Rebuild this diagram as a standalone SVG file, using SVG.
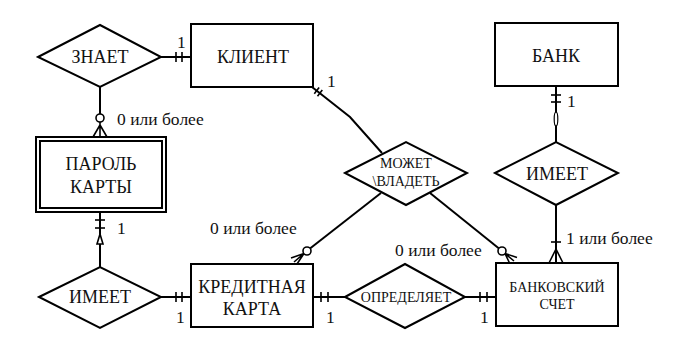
<svg xmlns="http://www.w3.org/2000/svg" width="691" height="344" viewBox="0 0 691 344">
<style>
.box{fill:#fff;stroke:#000;stroke-width:2}
.dia{fill:#fff;stroke:#000;stroke-width:2;stroke-linejoin:miter}
.ln{fill:none;stroke:#000;stroke-width:2}
.thin{fill:none;stroke:#000;stroke-width:1.6}
.circ{fill:#fff;stroke:#000;stroke-width:1.6}
text{fill:#111;font-family:"Liberation Serif",Tinos,"Times New Roman",serif !important}
.t18{font-size:18px;text-anchor:middle}
.t14{font-size:14px;text-anchor:middle}
.lbl{font-size:17.5px}
</style>
<rect width="691" height="344" fill="#fff"/>
<g id="connectors">
<line class="ln" x1="161" y1="57" x2="191" y2="57"/>
<line class="thin" x1="176" y1="52" x2="176" y2="62"/>
<line class="thin" x1="182" y1="52" x2="182" y2="62"/>
<line class="ln" x1="100" y1="87" x2="100" y2="114"/>
<circle class="circ" cx="100" cy="118" r="4"/>
<path class="thin" d="M100 122 V137 M100 125 L93 137 M100 125 L107 137"/>
<line class="ln" x1="100" y1="212" x2="100" y2="267"/>
<line class="thin" x1="95" y1="220" x2="105" y2="220"/>
<line class="thin" x1="95" y1="228" x2="105" y2="228"/>
<path d="M100 234 L103 244 L97 244 Z" fill="#fff" stroke="#000" stroke-width="1.6"/>
<line class="ln" x1="161" y1="297" x2="191" y2="297"/>
<line class="thin" x1="176" y1="292" x2="176" y2="302"/>
<line class="thin" x1="182" y1="292" x2="182" y2="302"/>
<line class="ln" x1="313" y1="297" x2="345" y2="297"/>
<line class="thin" x1="321" y1="292" x2="321" y2="302"/>
<line class="thin" x1="328" y1="292" x2="328" y2="302"/>
<line class="ln" x1="465" y1="297" x2="496" y2="297"/>
<line class="thin" x1="480" y1="292" x2="480" y2="302"/>
<line class="thin" x1="487" y1="292" x2="487" y2="302"/>
<line class="ln" x1="556" y1="86" x2="556" y2="142"/>
<line class="thin" x1="551" y1="95" x2="561" y2="95"/>
<line class="thin" x1="551" y1="102" x2="561" y2="102"/>
<ellipse cx="556" cy="119" rx="1.8" ry="7" fill="#fff" stroke="#000" stroke-width="1.2"/>
<line class="ln" x1="556" y1="205" x2="556" y2="263"/>
<line class="thin" x1="551" y1="242" x2="561" y2="242"/>
<path class="thin" d="M556 249 L549 263 M556 249 L563 263"/>
<polyline class="ln" points="312,87 350,117 382,153"/>
<line class="thin" x1="314.3" y1="93.8" x2="319.1" y2="87.6"/>
<line class="thin" x1="317.5" y1="96.2" x2="322.3" y2="90.0"/>
<line class="ln" x1="381" y1="193" x2="310" y2="248.5"/>
<circle class="circ" cx="307" cy="251" r="4"/>
<path class="thin" d="M304 253.5 L294 262 M304 253.5 L297 264 M304 253.5 L291 258"/>
<line class="ln" x1="430" y1="193" x2="499" y2="248.5"/>
<circle class="circ" cx="502" cy="251" r="4"/>
<path class="thin" d="M505 253.5 L514 261 M505 253.5 L510 264 M505 253.5 L517 257.5"/>
</g>
<g id="znaet"><polygon class="dia" points="38,57 100,25 161,57 100,87"/><text class="t18" x="100" y="63" font-family="Liberation Serif">ЗНАЕТ</text></g>
<g id="klient"><rect class="box" x="191" y="24" width="122" height="63"/><text class="t18" x="253" y="63" font-family="Liberation Serif">КЛИЕНТ</text></g>
<g id="bank"><rect class="box" x="495" y="23" width="123" height="63"/><text class="t18" x="556" y="62" font-family="Liberation Serif">БАНК</text></g>
<g id="parol"><rect class="box" x="36" y="137" width="130" height="75"/><rect class="box" x="40" y="141" width="122" height="67" stroke-width="1.5"/><text class="t18" x="101" y="170" font-family="Liberation Serif">ПАРОЛЬ</text><text class="t18" x="101" y="193" font-family="Liberation Serif">КАРТЫ</text></g>
<g id="mozhet"><polygon class="dia" points="345,173 406,142 467,173 406,205"/><text class="t14" x="406" y="168" font-family="Liberation Serif">МОЖЕТ</text><text class="t14" x="406" y="186" font-family="Liberation Serif">\ВЛАДЕТЬ</text></g>
<g id="imeet2"><polygon class="dia" points="495,173 556,142 618,173 556,205"/><text class="t18" x="557" y="180" font-family="Liberation Serif">ИМЕЕТ</text></g>
<g id="imeet1"><polygon class="dia" points="39,297 100,267 161,297 100,328"/><text class="t18" x="100" y="303" font-family="Liberation Serif">ИМЕЕТ</text></g>
<g id="kredit"><rect class="box" x="191" y="264" width="122" height="63"/><text class="t18" x="252" y="293" font-family="Liberation Serif">КРЕДИТНАЯ</text><text class="t18" x="252" y="315" font-family="Liberation Serif">КАРТА</text></g>
<g id="opred"><polygon class="dia" points="345,297 405,264 465,297 405,328"/><text class="t14" x="406" y="302" font-size="15.5" font-family="Liberation Serif">ОПРЕДЕЛЯЕТ</text></g>
<g id="schet"><rect class="box" x="496" y="263" width="122" height="63"/><text class="t14" x="557" y="292" font-size="14.5" font-family="Liberation Serif">БАНКОВСКИЙ</text><text class="t14" x="557" y="309" font-size="14.5" font-family="Liberation Serif">СЧЕТ</text></g>
<g id="labels" font-family="Liberation Serif">
<text class="lbl" x="177" y="48">1</text>
<text class="lbl" x="327" y="87">1</text>
<text class="lbl" x="117" y="125">0 или более</text>
<text class="lbl" x="117" y="234">1</text>
<text class="lbl" x="210" y="234">0 или более</text>
<text class="lbl" x="395" y="256">0 или более</text>
<text class="lbl" x="567" y="107">1</text>
<text class="lbl" x="566" y="244">1 или более</text>
<text class="lbl" x="176" y="323">1</text>
<text class="lbl" x="326" y="323">1</text>
<text class="lbl" x="480" y="323">1</text>
</g>
</svg>
